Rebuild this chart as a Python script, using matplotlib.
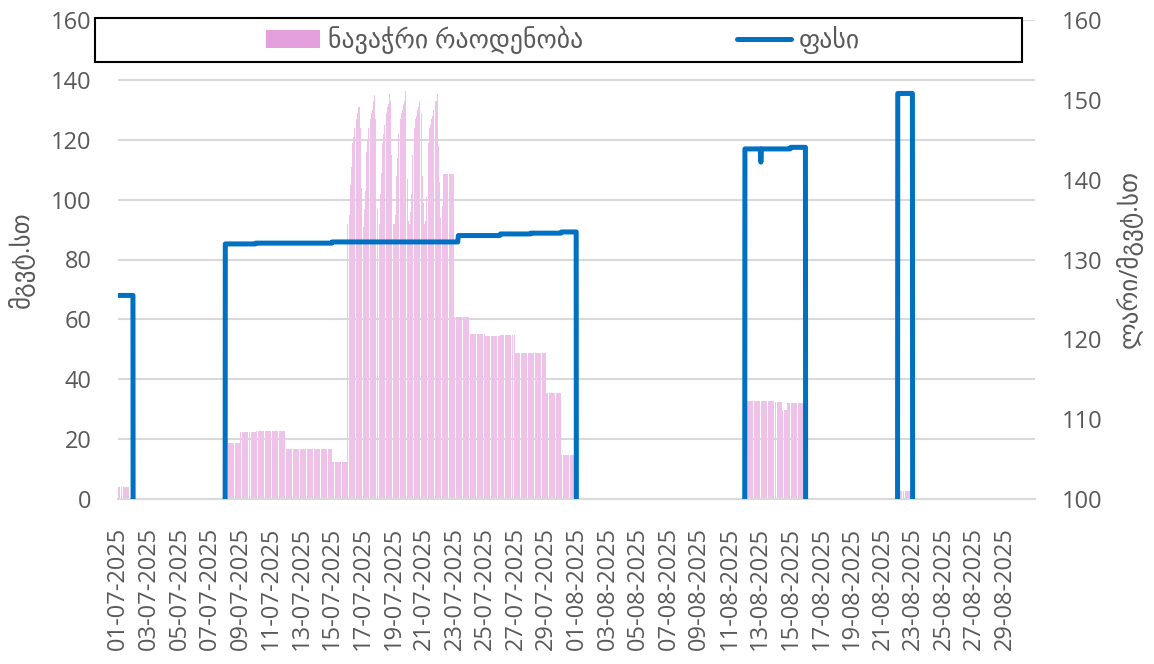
import numpy as np
import matplotlib
matplotlib.use('Agg')
import matplotlib.pyplot as plt
from matplotlib.patches import Rectangle

plt.rcParams['font.family'] = ['Open Sans', 'DejaVu Sans']

# hourly categories: 60 days x 24 hours
n_hours = 1440

tick_labels = ['01-07-2025', '03-07-2025', '05-07-2025', '07-07-2025', '09-07-2025',
               '11-07-2025', '13-07-2025', '15-07-2025', '17-07-2025', '19-07-2025',
               '21-07-2025', '23-07-2025', '25-07-2025', '27-07-2025', '29-07-2025',
               '01-08-2025', '03-08-2025', '05-08-2025', '07-08-2025', '09-08-2025',
               '11-08-2025', '13-08-2025', '15-08-2025', '17-08-2025', '19-08-2025',
               '21-08-2025', '23-08-2025', '25-08-2025', '27-08-2025', '29-08-2025']

# traded volume, flat blocks: (first hour, last hour, value)
volume_blocks = [
    (0, 18, 4.1),
    (168, 191, 18.8),
    (192, 215, 22.3),
    (216, 263, 22.8),
    (264, 335, 16.7),
    (336, 359, 12.3),
    (510, 527, 108.7),
    (528, 551, 60.8),
    (552, 575, 55.0),
    (576, 599, 54.3),
    (600, 623, 54.7),
    (624, 671, 48.7),
    (672, 695, 35.4),
    (696, 719, 14.7),
    (984, 1031, 32.8),
    (1032, 1041, 32.3),
    (1042, 1049, 29.7),
    (1050, 1079, 32.1),
    (1224, 1247, 2.8),
]

# hourly volume 16-07 .. 22-07 (starting hour 360)
spike_start = 360
spike_day1 = [92, 92, 93, 95, 99, 105, 111, 116, 119, 121, 123, 124,
              125, 126, 127, 128, 129, 131, 134.7, 131, 124, 114, 104, 96]
spike_day2 = [92, 91, 93, 97, 103, 110, 116, 120, 122, 124, 125, 126,
              127, 128, 129, 130, 131, 133, 135, 134, 127, 116, 105, 97]
spike_day3 = [92, 91, 92, 96, 102, 109, 115, 119, 122, 124, 125, 127,
              128, 129, 130, 131, 132, 133, 135.3, 133, 126, 115, 104, 96]
spike_day4 = [92, 91, 92, 95, 101, 108, 114, 119, 122, 124, 126, 127,
              128, 129, 130, 131, 132, 133, 134, 136.3, 130, 119, 107, 98]
spike_day5 = [93, 92, 93, 96, 102, 109, 115, 119, 122, 124, 125, 127,
              128, 129, 130, 131, 132, 133, 134, 134.7, 129, 119, 108, 99]
spike_day6 = [93, 92, 93, 96, 101, 108, 114, 119, 122, 124, 125, 126,
              127, 128, 129, 130, 131, 132, 133, 134, 133, 135.3, 128, 118]
spike_day7 = [106, 97, 94, 93, 95, 98]

# price blocks: (first hour, last hour, value)
price_blocks = [
    (0, 23, 125.5),
    (168, 215, 131.95),
    (216, 335, 132.05),
    (336, 533, 132.2),
    (534, 599, 133.0),
    (600, 647, 133.2),
    (648, 695, 133.3),
    (696, 719, 133.45),
    (984, 1008, 143.85),
    (1009, 1009, 142.2),
    (1010, 1055, 143.85),
    (1056, 1079, 144.05),
    (1224, 1247, 150.8),
]

volume = np.zeros(n_hours)
for s, e, v in volume_blocks:
    volume[s:e + 1] = v
spikes = spike_day1 + spike_day2 + spike_day3 + spike_day4 + spike_day5 + spike_day6 + spike_day7
volume[spike_start:spike_start + len(spikes)] = spikes

price = np.zeros(n_hours)
for s, e, v in price_blocks:
    price[s:e + 1] = v

x = np.arange(n_hours)

grey = '#595959'
fig = plt.figure(figsize=(11.54, 6.64), dpi=100)
ax = fig.add_axes([118 / 1154, 1 - 499 / 664, (1035 - 118) / 1154, (499 - 20) / 664])
ax2 = ax.twinx()

bars = ax.bar(x, volume, width=0.85, color='#efc2ea', linewidth=0,
              label='ნავაჭრი რაოდენობა')
line, = ax2.plot(x, price, color='#0070c0', lw=3.6, solid_joinstyle='round',
                 solid_capstyle='round', label='ფასი')

ax.set_xlim(-0.5, n_hours - 0.5)
ax.set_ylim(0, 160)
ax.set_yticks(np.arange(0, 161, 20))
ax2.set_ylim(100, 160)
ax2.set_yticks(np.arange(100, 161, 10))

ax.set_axisbelow(True)
ax.grid(axis='y', color='#d9d9d9', lw=1.5)
for a in (ax, ax2):
    for sp in a.spines.values():
        sp.set_visible(False)
ax.spines['bottom'].set_visible(True)
ax.spines['bottom'].set_color('#d9d9d9')
ax.spines['bottom'].set_linewidth(1.5)

ax.set_xticks(np.arange(0, n_hours, 48))
ax.set_xticklabels(tick_labels, rotation=90)
ax.tick_params(axis='x', length=0, pad=20, labelsize=17, labelcolor=grey)
ax.tick_params(axis='y', length=0, pad=19, labelsize=17, labelcolor=grey)
ax2.tick_params(axis='y', length=0, pad=19, labelsize=17, labelcolor=grey)

ax.set_ylabel('მგვტ.სთ', fontsize=18, color=grey, labelpad=12)
ax2.set_ylabel('ლარი/მგვტ.სთ', fontsize=18, color=grey, labelpad=10)

# legend box across the top
fig.add_artist(Rectangle((95 / 1154, 1 - 62 / 664), 927 / 1154, 44 / 664,
                         transform=fig.transFigure, facecolor='white',
                         edgecolor='black', lw=1.5, zorder=4))
leg = fig.legend([bars, line], ['ნავაჭრი რაოდენობა', 'ფასი'], loc='center',
                 bbox_to_anchor=(563 / 1154, 1 - 40 / 664), ncol=2, frameon=False,
                 fontsize=18.5, handlelength=2.1, handleheight=0.7,
                 handletextpad=0.3, columnspacing=6.0, labelcolor=grey)
leg.set_zorder(5)
leg.legend_handles[0].set_color('#e4a0dc')

fig.savefig('out.png', dpi=100)
